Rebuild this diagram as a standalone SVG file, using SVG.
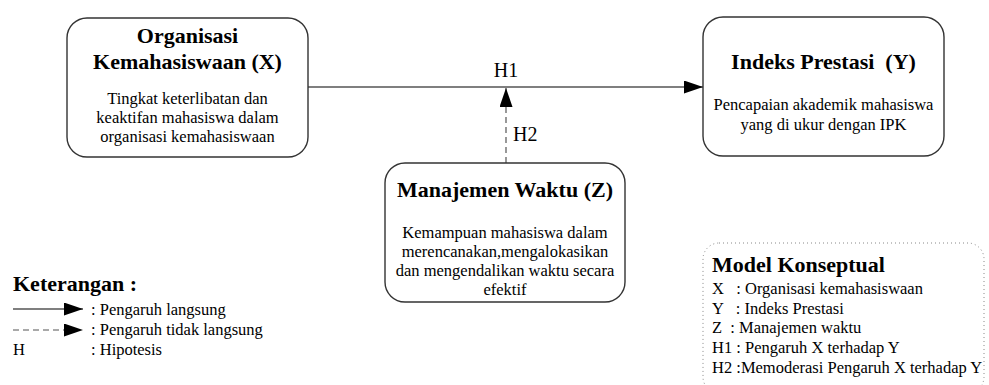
<svg xmlns="http://www.w3.org/2000/svg" width="989" height="385" viewBox="0 0 989 385">
<style>
  .box { fill: #ffffff; stroke: #333333; stroke-width: 1.4; }
  .title { font-family: "Liberation Serif", "Times New Roman", serif; font-weight: bold; font-size: 22px; fill: #000; text-anchor: middle; }
  .body { font-family: "Liberation Serif", "Times New Roman", serif; font-size: 16.5px; fill: #000; text-anchor: middle; }
  .lbl { font-family: "Liberation Serif", "Times New Roman", serif; font-size: 20px; fill: #000; }
  .leg { font-family: "Liberation Serif", "Times New Roman", serif; font-size: 16.5px; fill: #000; }
  .legb { font-family: "Liberation Serif", "Times New Roman", serif; font-weight: bold; font-size: 22px; fill: #000; }
  .solid { stroke: #000; stroke-width: 1.2; fill: none; }
  .dash { stroke: #555; stroke-width: 1.2; fill: none; stroke-dasharray: 6 4; }
</style>
<defs>
  <marker id="ah" markerUnits="userSpaceOnUse" markerWidth="20" markerHeight="14" refX="19" refY="6.5" orient="auto">
    <path d="M0,0 L19,6.5 L0,13 Z" fill="#000"/>
  </marker>
</defs>
<rect width="989" height="385" fill="#ffffff"/>

<g id="connectors">
  <line class="solid" x1="308" y1="87" x2="703" y2="87" marker-end="url(#ah)"/>
  <line class="dash" x1="506" y1="163" x2="506" y2="88" marker-end="url(#ah)"/>
  <text class="lbl" x="506" y="77" text-anchor="middle">H1</text>
  <text class="lbl" x="513" y="141">H2</text>
</g>

<g id="nodeX">
  <rect class="box" x="67" y="18" width="241" height="139" rx="20" ry="20"/>
  <text class="title" x="187.5" y="43">Organisasi</text>
  <text class="title" x="187.5" y="69">Kemahasiswaan (X)</text>
  <text class="body" x="187.5" y="104">Tingkat keterlibatan dan</text>
  <text class="body" x="187.5" y="123">keaktifan mahasiswa dalam</text>
  <text class="body" x="187.5" y="142">organisasi kemahasiswaan</text>
</g>

<g id="nodeY">
  <rect class="box" x="703" y="17" width="241" height="139" rx="20" ry="20"/>
  <text class="title" x="823.5" y="69" xml:space="preserve">Indeks Prestasi  (Y)</text>
  <text class="body" x="823.5" y="110">Pencapaian akademik mahasiswa</text>
  <text class="body" x="823.5" y="130">yang di ukur dengan IPK</text>
</g>

<g id="nodeZ">
  <rect class="box" x="385" y="163" width="240" height="139" rx="20" ry="20"/>
  <text class="title" x="505" y="197">Manajemen Waktu (Z)</text>
  <text class="body" x="505" y="238">Kemampuan mahasiswa dalam</text>
  <text class="body" x="505" y="257">merencanakan,mengalokasikan</text>
  <text class="body" x="505" y="276">dan mengendalikan waktu secara</text>
  <text class="body" x="505" y="295">efektif</text>
</g>

<g id="legend">
  <text class="legb" x="13" y="291">Keterangan :</text>
  <line class="solid" x1="13" y1="309" x2="83" y2="309" marker-end="url(#ah)"/>
  <text class="leg" x="91" y="315">: Pengaruh langsung</text>
  <line class="dash" x1="13" y1="330" x2="83" y2="330" marker-end="url(#ah)"/>
  <text class="leg" x="91" y="335">: Pengaruh tidak langsung</text>
  <text class="leg" x="13" y="355">H</text>
  <text class="leg" x="91" y="355">: Hipotesis</text>
</g>

<g id="modelKonseptual">
  <rect x="703" y="243" width="281" height="150" rx="16" ry="16" fill="none" stroke="#888" stroke-width="1" stroke-dasharray="1 3"/>
  <text class="legb" x="712" y="272">Model Konseptual</text>
  <text class="leg" x="712" y="294" xml:space="preserve">X   : Organisasi kemahasiswaan</text>
  <text class="leg" x="712" y="314" xml:space="preserve">Y   : Indeks Prestasi</text>
  <text class="leg" x="712" y="333" xml:space="preserve">Z  : Manajemen waktu</text>
  <text class="leg" x="712" y="353" xml:space="preserve">H1 : Pengaruh X terhadap Y</text>
  <text class="leg" x="712" y="373" xml:space="preserve">H2 :Memoderasi Pengaruh X terhadap Y</text>
</g>
</svg>
